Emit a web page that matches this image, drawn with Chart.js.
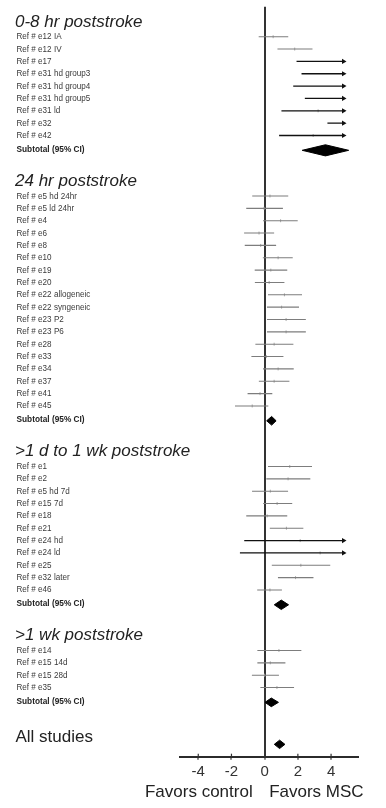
<!DOCTYPE html>
<html>
<head>
<meta charset="utf-8">
<script src="https://cdn.jsdelivr.net/npm/chart.js@4.4.1/dist/chart.umd.min.js"></script>
<style>
  html, body { margin: 0; padding: 0; background: #fff; }
  #wrap { width: 386px; height: 808px; }
</style>
</head>
<body>
<div id="wrap"><canvas id="forest"></canvas></div>
<script>
// Group titles
const groupTitles = ['0-8 hr poststroke', '24 hr poststroke', '>1 d to 1 wk poststroke', '>1 wk poststroke'];

// 0-8 hr (null hi = runs past the axis, drawn as arrow)
const studies1 = ['Ref # e12 IA', 'Ref # e12 IV', 'Ref # e17', 'Ref # e31 hd group3', 'Ref # e31 hd group4',
  'Ref # e31 hd group5', 'Ref # e31 ld', 'Ref # e32', 'Ref # e42'];
const lo1 = [-0.36, 0.77, 1.92, 2.22, 1.72, 2.42, 1.01, 3.78, 0.87];
const est1 = [0.51, 1.81, null, null, null, null, 3.22, null, 2.92];
const hi1 = [1.42, 2.88, null, null, null, null, null, null, null];
const sub1 = [2.26, 3.66, 5.06];

// 24 hr
const studies2 = ['Ref # e5 hd 24hr', 'Ref # e5 ld 24hr', 'Ref # e4', 'Ref # e6', 'Ref # e8', 'Ref # e10', 'Ref # e19',
  'Ref # e20', 'Ref # e22 allogeneic', 'Ref # e22 syngeneic', 'Ref # e23 P2', 'Ref # e23 P6', 'Ref # e28', 'Ref # e33',
  'Ref # e34', 'Ref # e37', 'Ref # e41', 'Ref # e45'];
const lo2 = [-0.75, -1.11, -0.10, -1.24, -1.20, -0.11, -0.60, -0.59, 0.20, 0.14, 0.14, 0.14, -0.56, -0.80, -0.10, -0.35, -1.03, -1.79];
const est2 = [0.32, -0.04, 0.96, -0.34, -0.24, 0.81, 0.37, 0.27, 1.19, 1.02, 1.29, 1.29, 0.57, 0.10, 0.81, 0.57, -0.28, -0.75];
const hi2 = [1.42, 1.10, 1.99, 0.57, 0.69, 1.69, 1.36, 1.19, 2.25, 2.07, 2.48, 2.48, 1.73, 1.13, 1.75, 1.49, 0.46, 0.22];
const sub2 = [0.12, 0.42, 0.69];

// >1 d to 1 wk
const studies3 = ['Ref # e1', 'Ref # e2', 'Ref # e5 hd 7d', 'Ref # e15 7d', 'Ref # e18', 'Ref # e21', 'Ref # e24 hd',
  'Ref # e24 ld', 'Ref # e25', 'Ref # e32 later', 'Ref # e46'];
const lo3 = [0.20, 0.10, -0.76, -0.09, -1.11, 0.31, -1.23, -1.49, 0.43, 0.80, -0.45];
const est3 = [1.51, 1.41, 0.34, 0.75, 0.15, 1.31, 2.14, 3.34, 2.18, 1.86, 0.32];
const hi3 = [2.85, 2.75, 1.41, 1.66, 1.36, 2.33, null, null, 3.95, 2.94, 1.04];
const sub3 = [0.58, 1.00, 1.44];

// >1 wk
const studies4 = ['Ref # e14', 'Ref # e15 14d', 'Ref # e15 28d', 'Ref # e35'];
const lo4 = [-0.44, -0.44, -0.77, -0.26];
const est4 = [0.86, 0.34, 0.00, 0.74];
const hi4 = [2.21, 1.25, 0.86, 1.77];
const sub4 = [0.02, 0.40, 0.83];

const overall = [0.58, 0.90, 1.22];
const xTicks = [-4, -2, 0, 2, 4];

// ---- layout (row units) ----
const FONT = "'Liberation Sans', Arial, sans-serif";
const ARROW_END = 4.75;
const diamondHalf = [0.45, 0.35, 0.38, 0.35, 0.34];

const groups = [
  { title: groupTitles[0], names: studies1, lo: lo1, est: est1, hi: hi1, sub: sub1 },
  { title: groupTitles[1], names: studies2, lo: lo2, est: est2, hi: hi2, sub: sub2 },
  { title: groupTitles[2], names: studies3, lo: lo3, est: est3, hi: hi3, sub: sub3 },
  { title: groupTitles[3], names: studies4, lo: lo4, est: est4, hi: hi4, sub: sub4 }
];

const labels = [];
const ciData = [];
const arrowData = [];
const estData = [];
const diamonds = [];

let cursor = 0;
groups.forEach(g => {
  labels.push({ kind: 'header', text: g.title, y: cursor - 1.2 });
  g.names.forEach((name, i) => {
    const r = cursor + i;
    labels.push({ kind: 'study', text: name, y: r });
    if (g.hi[i] === null) {
      arrowData.push({ x: g.lo[i], y: r }, { x: ARROW_END, y: r, tip: true }, { x: null, y: null });
    } else {
      ciData.push({ x: g.lo[i], y: r }, { x: g.hi[i], y: r }, { x: null, y: null });
    }
    if (g.est[i] !== null) estData.push({ x: g.est[i], y: r });
  });
  const s = cursor + g.names.length;
  labels.push({ kind: 'subtotal', text: 'Subtotal (95% CI)', y: s + 0.1 });
  diamonds.push({ v: g.sub, y: s + 0.2 });
  cursor = s + 3.9;
});
const lastSub = cursor - 3.9;
labels.push({ kind: 'overall', text: 'All studies', y: lastSub + 3.05 });
diamonds.push({ v: overall, y: lastSub + 3.6 });

const datasets = [
  {
    label: 'CI', data: ciData, showLine: true, borderColor: '#7d7d7d', borderWidth: 1.1,
    pointRadius: 0, spanGaps: false
  },
  {
    label: 'CI beyond axis', data: arrowData, showLine: true, borderColor: '#111', borderWidth: 1.3,
    spanGaps: false, pointStyle: 'triangle', rotation: 90, backgroundColor: '#111', pointBorderWidth: 0,
    pointRadius: ctx => (ctx.raw && ctx.raw.tip ? 3 : 0)
  },
  {
    label: 'Estimate', data: estData, showLine: false, pointStyle: 'line', rotation: 90,
    pointRadius: 1.5, borderColor: '#aaa', borderWidth: 1
  }
];
diamonds.forEach((d, i) => {
  const [lo, mid, hi] = d.v;
  const h = diamondHalf[i];
  datasets.push({
    label: 'Pooled ' + i,
    data: [{ x: lo, y: d.y }, { x: mid, y: d.y - h }, { x: hi, y: d.y }, { x: mid, y: d.y + h }, { x: lo, y: d.y }],
    showLine: true, fill: 'shape', backgroundColor: '#000', borderColor: '#000', borderWidth: 1, pointRadius: 0
  });
});

// text column, axis captions and the upper half of the tick marks
const forestLabels = {
  id: 'forestLabels',
  afterDraw(chart) {
    const ctx = chart.ctx;
    const ys = chart.scales.y;
    const xs = chart.scales.x;
    ctx.save();
    ctx.textBaseline = 'middle';
    ctx.textAlign = 'left';
    labels.forEach(l => {
      let x = 16.5, squeeze = 1;
      if (l.kind === 'header') {
        ctx.font = 'italic 17px ' + FONT; ctx.fillStyle = '#222'; x = 15;
      } else if (l.kind === 'overall') {
        ctx.font = '17px ' + FONT; ctx.fillStyle = '#222'; x = 15.5;
      } else if (l.kind === 'subtotal') {
        ctx.font = 'bold 9px ' + FONT; ctx.fillStyle = '#222'; squeeze = 0.92;
      } else {
        ctx.font = '9px ' + FONT; ctx.fillStyle = '#3a3a3a'; squeeze = 0.9;
      }
      const w = ctx.measureText(l.text).width;
      ctx.fillText(l.text, x, ys.getPixelForValue(l.y), w * squeeze);
    });

    ctx.strokeStyle = '#333';
    ctx.lineWidth = 1.2;
    const bottom = chart.chartArea.bottom;
    xs.ticks.forEach(t => {
      const px = xs.getPixelForValue(t.value);
      ctx.beginPath();
      ctx.moveTo(px, bottom - 3);
      ctx.lineTo(px, bottom);
      ctx.stroke();
    });

    const x0 = xs.getPixelForValue(0);
    ctx.font = '17px ' + FONT;
    ctx.fillStyle = '#222';
    ctx.textAlign = 'right';
    ctx.fillText('Favors control', x0 - 12, 792);
    ctx.textAlign = 'left';
    ctx.fillText('Favors MSC', x0 + 4.5, 792);
    ctx.restore();
  }
};

new Chart(document.getElementById('forest'), {
  type: 'scatter',
  data: { datasets: datasets },
  options: {
    responsive: true,
    maintainAspectRatio: false,
    animation: false,
    layout: { padding: { left: 180, right: 27.7, top: 6.7, bottom: 0 } },
    plugins: { legend: { display: false }, tooltip: { enabled: false } },
    scales: {
      x: {
        type: 'linear',
        min: -5.1,
        max: 5.64,
        afterBuildTicks: s => { s.ticks = xTicks.map(v => ({ value: v })); },
        afterFit: s => { s.height = 51.3; },
        border: { display: true, color: '#2b2b2b', width: 2 },
        grid: {
          color: ctx => (ctx.tick && ctx.tick.value === 0 ? '#333' : 'rgba(0,0,0,0)'),
          lineWidth: 2,
          drawTicks: true,
          tickLength: 3,
          tickColor: '#333',
          tickWidth: 1.2
        },
        ticks: { color: '#333', font: { family: FONT, size: 15 }, padding: 3 }
      },
      y: { type: 'linear', display: false, reverse: true, min: -2.43, max: 58.3 }
    }
  },
  plugins: [forestLabels]
});
</script>
</body>
</html>
